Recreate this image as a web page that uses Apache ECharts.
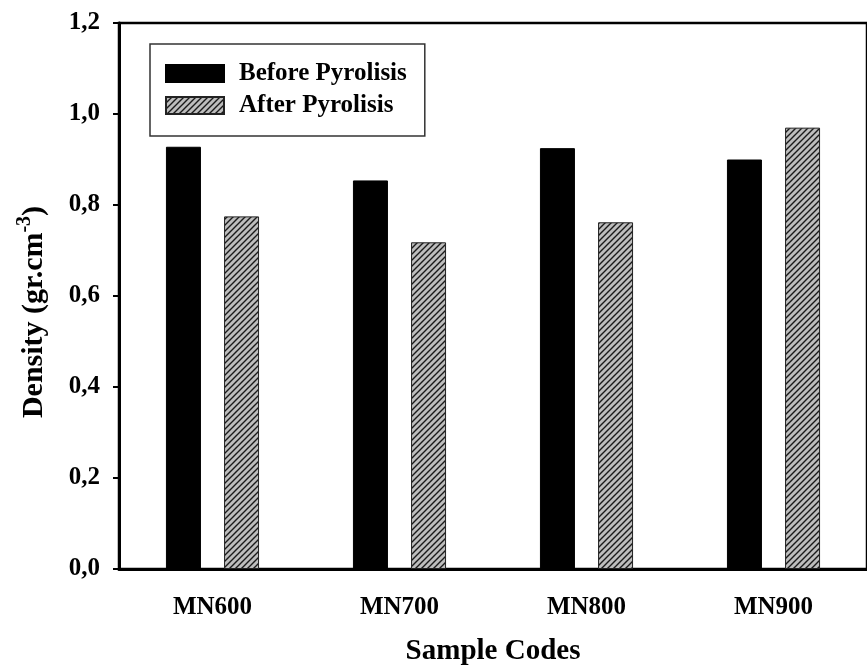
<!DOCTYPE html>
<html>
<head>
<meta charset="utf-8">
<script src="https://cdn.jsdelivr.net/npm/echarts@6/dist/echarts.min.js"></script>
<style>html,body{margin:0;padding:0;background:#fff;}#c{width:867px;height:671px;}</style>
</head>
<body>
<div id="c"></div>
<script>
const categories = ['MN600', 'MN700', 'MN800', 'MN900'];
const beforeValues = [0.928, 0.854, 0.925, 0.900];
const afterValues = [0.775, 0.718, 0.762, 0.970];
const seriesNames = ['Before Pyrolisis', 'After Pyrolisis'];
const yTicks = [0, 0.2, 0.4, 0.6, 0.8, 1.0, 1.2];

function hatch() {
  const s = 6;
  const c = document.createElement('canvas');
  c.width = s; c.height = s;
  const g = c.getContext('2d');
  g.fillStyle = '#bdbdbd';
  g.fillRect(0, 0, s, s);
  g.strokeStyle = '#1a1a1a';
  g.lineWidth = 1.4;
  g.beginPath();
  g.moveTo(-1, s + 1); g.lineTo(s + 1, -1);
  g.moveTo(-1, 1); g.lineTo(1, -1);
  g.moveTo(s - 1, s + 1); g.lineTo(s + 1, s - 1);
  g.stroke();
  return c;
}

const font = '"Liberation Serif", "Times New Roman", serif';
const chart = echarts.init(document.getElementById('c'), null, {renderer: 'canvas'});
chart.setOption({
  animation: false,
  backgroundColor: '#fff',
  grid: {left: 119, top: 23, width: 756, bottom: 101, show: true, borderColor: '#000', borderWidth: 2.5, backgroundColor: 'transparent'},
  legend: {
    orient: 'vertical', left: 150, top: 44,
    data: seriesNames,
    itemWidth: 58, itemHeight: 17, itemGap: 7,
    padding: [17, 18, 18, 15],
    borderColor: '#333', borderWidth: 1.5,
    icon: 'rect',
    textStyle: {fontFamily: font, fontWeight: 'bold', fontSize: 25, color: '#000', padding: [0, 0, 0, 10]}
  },
  xAxis: {
    type: 'category', data: categories,
    axisLine: {lineStyle: {color: '#000', width: 3}},
    axisTick: {alignWithLabel: true, length: 6, lineStyle: {width: 2, color: '#000'}},
    axisLabel: {fontFamily: font, fontWeight: 'bold', fontSize: 25, color: '#000', margin: 26},
    name: 'Sample Codes', nameLocation: 'middle', nameGap: 68,
    nameTextStyle: {fontFamily: font, fontWeight: 'bold', fontSize: 29, color: '#000'}
  },
  yAxis: {
    type: 'value', min: 0, max: 1.2, interval: 0.2,
    splitLine: {show: false},
    axisLine: {show: true, lineStyle: {color: '#000', width: 3}},
    axisTick: {show: true, length: 6, lineStyle: {width: 2, color: '#000'}},
    axisLabel: {fontFamily: font, fontWeight: 'bold', fontSize: 25, color: '#000', margin: 19,
      formatter: v => v.toFixed(1).replace('.', ',')},
    name: '{a|Density (gr.cm}{s|-3}{a|)}', nameLocation: 'middle', nameGap: 65, nameRotate: 90,
    nameTextStyle: {padding: [0, 32, 0, 0], rich: {
      a: {fontFamily: font, fontWeight: 'bold', fontSize: 30, color: '#000'},
      s: {fontFamily: font, fontWeight: 'bold', fontSize: 20, color: '#000', padding: [0, 0, 19, 0]}
    }}
  },
  series: [
    {name: seriesNames[0], type: 'bar', data: beforeValues, barWidth: 35, barGap: '66%',
     itemStyle: {color: '#000', borderColor: '#000', borderWidth: 1}},
    {name: seriesNames[1], type: 'bar', data: afterValues, barWidth: 35,
     itemStyle: {color: {image: hatch(), repeat: 'repeat'}, borderColor: '#222', borderWidth: 1}}
  ]
});
</script>
</body>
</html>
